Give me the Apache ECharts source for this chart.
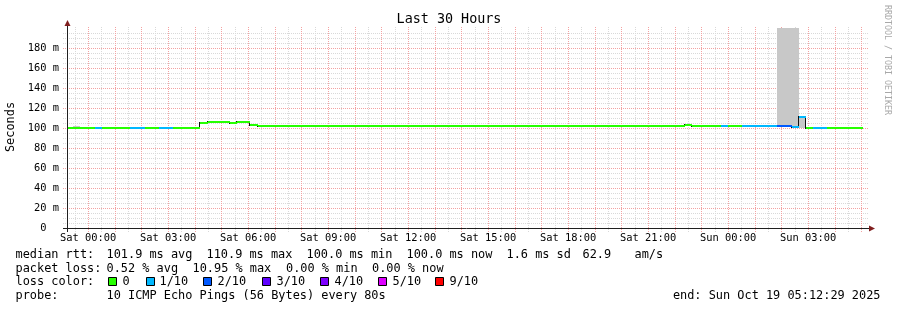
<!DOCTYPE html>
<html><head><meta charset="utf-8">
<script src="https://cdn.jsdelivr.net/npm/echarts@6/dist/echarts.min.js"></script>
<style>html,body{margin:0;padding:0;background:#fff}#c{width:897px;height:310px}</style>
</head><body><div id="c"></div>
<script>
// ---- time axis (hours relative to Sat 00:00) ----
const xStart = -0.7919;   // Fri 23:12:29
const xEnd = 29.2081;     // Sun 05:12:29
const xLabelValues = [0, 3, 6, 9, 12, 15, 18, 21, 24, 27];
const xLabelTexts = ['Sat 00:00','Sat 03:00','Sat 06:00','Sat 09:00','Sat 12:00','Sat 15:00','Sat 18:00','Sat 21:00','Sun 00:00','Sun 03:00'];
const hourTicks = [0,1,2,3,4,5,6,7,8,9,10,11,12,13,14,15,16,17,18,19,20,21,22,23,24,25,26,27,28,29];
const halfHourTicks = [-0.5,0.5,1.5,2.5,3.5,4.5,5.5,6.5,7.5,8.5,9.5,10.5,11.5,12.5,13.5,14.5,15.5,16.5,17.5,18.5,19.5,20.5,21.5,22.5,23.5,24.5,25.5,26.5,27.5,28.5];

// ---- y axis (ms) ----
const yMin = 0, yMax = 200, yStep = 20;
const yMajorTicks = [20, 40, 60, 80, 100, 120, 140, 160, 180];
const yMinorTicks = [5,10,15,25,30,35,45,50,55,65,70,75,85,90,95,105,110,115,125,130,135,145,150,155,165,170,175,185,190,195];

// ---- median rtt segments ----
const segStart = [-0.79, 0.25, 0.51, 1.56, 2.13, 2.65, 3.18, 4.19, 4.49, 5.31, 5.57, 6.06, 6.36, 22.37, 22.64, 23.72, 23.99, 24.51, 25.82, 26.39, 26.65, 26.91, 27.18, 27.70];
const segEnd   = [0.25, 0.51, 1.56, 2.13, 2.65, 3.18, 4.19, 4.49, 5.31, 5.57, 6.06, 6.36, 22.37, 22.64, 23.72, 23.99, 24.51, 25.82, 26.39, 26.65, 26.91, 27.18, 27.70, 29.05];
const medianMs = [100.0, 100.0, 100.0, 100.0, 100.0, 100.0, 100.0, 105.3, 106.0, 105.3, 106.0, 103.5, 102.0, 103.0, 102.0, 102.0, 102.0, 102.0, 102.0, 101.0, 110.9, 100.0, 100.0, 100.0];
const lossLevel = [0, 1, 0, 1, 0, 1, 0, 0, 0, 0, 0, 0, 0, 0, 0, 1, 0, 1, 2, 1, 1, 0, 1, 0];

// ---- smoke (spread of pings) ----
const smokeStart = [-0.57, 25.82, 26.65];
const smokeEnd   = [-0.31, 26.65, 26.91];
const smokeLow   = [100, 101, 100];
const smokeHigh  = [102, 200, 111];

// ---- legend ----
const lossLabels = ['0', '1/10', '2/10', '3/10', '4/10', '5/10', '9/10'];
const lossColors = ['#26ff00', '#00b8ff', '#0059ff', '#5e00ff', '#7e00ff', '#dd00ff', '#ff0000'];
const rttStats = ['101.9 ms avg', '110.9 ms max', '100.0 ms min', '100.0 ms now', '1.6 ms sd', '62.9', 'am/s'];
const lossStats = ['0.52 % avg', '10.95 % max', '0.00 % min', '0.00 % now'];
const probeText = '10 ICMP Echo Pings (56 Bytes) every 80s';
const endText = 'end: Sun Oct 19 05:12:29 2025';

const MONO = '"DejaVu Sans Mono", "Liberation Mono", monospace';
const RED_GRID = '#f3a2a2';
const GRAY_GRID = '#d9d9d9';

const chart = echarts.init(document.getElementById('c'), null, {renderer: 'canvas'});

function vGridRender(color) {
  return function (params, api) {
    const t = api.value(0);
    const a = api.coord([t, yMax]);
    const b = api.coord([t, yMin]);
    const x = Math.round(a[0]) + 0.5;
    return {type: 'line', shape: {x1: x, y1: Math.round(a[1]) - 1, x2: x, y2: Math.round(b[1]) + 4},
      style: {stroke: color, lineWidth: 1, lineDash: [1, 1]}, silent: true};
  };
}
function hGridRender(color) {
  return function (params, api) {
    const v = api.value(0);
    const a = api.coord([xStart, v]);
    const b = api.coord([xEnd, v]);
    const y = Math.round(a[1]) + 0.5;
    return {type: 'line', shape: {x1: Math.round(a[0]) - 4, y1: y, x2: Math.round(b[0]) + 1, y2: y},
      style: {stroke: color, lineWidth: 1, lineDash: [1, 1]}, silent: true};
  };
}

const legendGraphics = [];
function txt(x, y, s, size, extra) {
  legendGraphics.push(Object.assign({type: 'text', x: x, y: y, silent: true,
    style: Object.assign({text: s, font: size + 'px ' + MONO, fill: '#000', verticalAlign: 'middle', textAlign: 'left'}, extra || {})}));
}
const L1 = 255, L2 = 268.5, L3 = 282, L4 = 296, FS = 11.9;
txt(15.5, L1, 'median rtt:', FS);
const rttX = [106.5, 206.5, 306.5, 406.5, 506.5, 582.5, 634.5];
rttStats.forEach((s, i) => txt(rttX[i], L1, s, FS));
txt(15.5, L2, 'packet loss:', FS);
const lossX = [106.5, 192.5, 286, 372];
lossStats.forEach((s, i) => txt(lossX[i], L2, s, FS));
txt(15.5, L3, 'loss color:', FS);
const boxX = [108, 146, 203, 262, 320, 378, 435];
const lblX = [122.5, 159.5, 217.5, 276.5, 334.5, 392.5, 449.5];
lossLabels.forEach((s, i) => {
  legendGraphics.push({type: 'rect', silent: true, shape: {x: boxX[i] + 0.5, y: L3 - 4.5, width: 8, height: 8},
    style: {fill: lossColors[i], stroke: '#000', lineWidth: 1}});
  txt(lblX[i], L3, s, FS);
});
txt(15.5, L4, 'probe:', FS);
txt(106.5, L4, probeText, FS);
txt(880.5, L4, endText, FS, {textAlign: 'right'});

// title, unit, watermark
txt(449, 20, 'Last 30 Hours', 13.4, {textAlign: 'center'});
legendGraphics.push({type: 'text', x: 11, y: 127, rotation: Math.PI / 2, silent: true,
  style: {text: 'Seconds', font: '11.9px ' + MONO, fill: '#000', textAlign: 'center', verticalAlign: 'middle'}});
legendGraphics.push({type: 'text', x: 887, y: 60, rotation: -Math.PI / 2, silent: true,
  style: {text: 'RRDTOOL / TOBI OETIKER', font: '8.3px ' + MONO, fill: '#a8a8a8', textAlign: 'center', verticalAlign: 'middle'}});
// axis lines and arrows
legendGraphics.push({type: 'line', silent: true, z: 50, shape: {x1: 67.5, y1: 24, x2: 67.5, y2: 232}, style: {stroke: '#1f1f1f', lineWidth: 1}});
legendGraphics.push({type: 'line', silent: true, z: 50, shape: {x1: 63, y1: 228.5, x2: 870, y2: 228.5}, style: {stroke: '#1f1f1f', lineWidth: 1}});
legendGraphics.push({type: 'polygon', silent: true, z: 51, shape: {points: [[67.5, 20], [64.5, 26], [70.5, 26]]}, style: {fill: '#801f1f'}});
legendGraphics.push({type: 'polygon', silent: true, z: 51, shape: {points: [[875, 228.5], [869, 225.5], [869, 231.5]]}, style: {fill: '#801f1f'}});

const segData = segStart.map((s, i) => [s, segEnd[i], medianMs[i], lossLevel[i]]);
const stepData = [];
for (let i = 1; i < segStart.length; i++) {
  if (medianMs[i] !== medianMs[i - 1]) stepData.push([segStart[i], medianMs[i - 1], medianMs[i]]);
}
const smokeData = smokeStart.map((s, i) => [s, smokeEnd[i], smokeLow[i], smokeHigh[i]]);

chart.setOption({
  animation: false,
  backgroundColor: '#ffffff',
  grid: {left: 67, right: 30, top: 28, bottom: 82, containLabel: false},
  xAxis: {
    type: 'value', min: xStart, max: xEnd,
    axisLine: {show: false}, axisTick: {show: false}, splitLine: {show: false},
    axisLabel: {
      customValues: xLabelValues, margin: 5, color: '#000',
      fontFamily: MONO, fontSize: 10.4,
      formatter: v => { const i = xLabelValues.indexOf(Math.round(v)); return i >= 0 ? xLabelTexts[i] : ''; }
    }
  },
  yAxis: {
    type: 'value', min: yMin, max: yMax, interval: yStep,
    axisLine: {show: false}, axisTick: {show: false}, splitLine: {show: false},
    axisLabel: {
      margin: 8, color: '#000', fontFamily: MONO, fontSize: 10.4,
      formatter: v => v >= yMax ? '' : (v === 0 ? '0  ' : v + ' m')
    }
  },
  graphic: legendGraphics,
  series: [
    {type: 'custom', name: 'minorYGrid', data: yMinorTicks.map(v => [v]),
      encode: {y: 0}, renderItem: hGridRender(GRAY_GRID), z: 1, silent: true, clip: false},
    {type: 'custom', name: 'halfHourGrid', data: halfHourTicks.filter(t => t > xStart && t < xEnd).map(t => [t]),
      encode: {x: 0}, renderItem: vGridRender(GRAY_GRID), z: 1, silent: true, clip: false},
    {type: 'custom', name: 'majorYGrid', data: yMajorTicks.map(v => [v]),
      encode: {y: 0}, renderItem: hGridRender(RED_GRID), z: 2, silent: true, clip: false},
    {type: 'custom', name: 'hourGrid', data: hourTicks.map(t => [t]),
      encode: {x: 0}, renderItem: vGridRender(RED_GRID), z: 2, silent: true, clip: false},
    {type: 'custom', name: 'smoke', data: smokeData, encode: {x: [0, 1], y: [2, 3]}, z: 3, clip: true,
      renderItem: function (params, api) {
        const p0 = api.coord([api.value(0), api.value(3)]);
        const p1 = api.coord([api.value(1), api.value(2)]);
        const cs = params.coordSys;
        const y0 = Math.max(p0[1], cs.y);
        return {type: 'rect', shape: {x: Math.round(p0[0]), y: Math.round(y0), width: Math.round(p1[0]) - Math.round(p0[0]), height: Math.round(p1[1]) - Math.round(y0)},
          style: {fill: '#c8c8c8'}};
      }},
    {type: 'custom', name: 'medianSteps', data: stepData, encode: {x: 0, y: [1, 2]}, z: 4, silent: true,
      renderItem: function (params, api) {
        const a = api.coord([api.value(0), api.value(1)]);
        const b = api.coord([api.value(0), api.value(2)]);
        const x = Math.round(a[0]) - 0.5;
        const ya = Math.round(a[1]), yb = Math.round(b[1]);
        return {type: 'line', shape: {x1: x, y1: Math.min(ya, yb) - 1, x2: x, y2: Math.max(ya, yb) + 1},
          style: {stroke: '#111', lineWidth: 1}};
      }},
    {type: 'custom', name: 'median', data: segData, encode: {x: [0, 1], y: 2}, z: 5,
      renderItem: function (params, api) {
        const a = api.coord([api.value(0), api.value(2)]);
        const b = api.coord([api.value(1), api.value(2)]);
        const y = Math.round(a[1]);
        return {type: 'rect', shape: {x: Math.round(a[0]), y: y - 1, width: Math.round(b[0]) - Math.round(a[0]), height: 2},
          style: {fill: lossColors[api.value(3)]}};
      }}
  ]
});
</script></body></html>
